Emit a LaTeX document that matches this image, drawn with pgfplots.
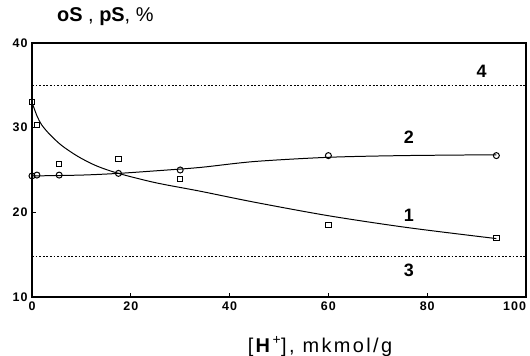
\documentclass[border=0pt]{standalone}
\usepackage{fontspec}
\setmainfont{Liberation Sans}
\usepackage{pgfplots}
\pgfplotsset{compat=1.18}
\begin{document}
\begin{tikzpicture}
\begin{axis}[
  name=ax, at={(0,0)}, anchor=south west,
  scale only axis, width=494bp, height=254bp,
  xmin=0, xmax=100, ymin=10, ymax=40,
  xtick={0,20,40,60,80,100}, ytick={10,20,30,40},
  xticklabels={0,20,40,60,80,{\makebox[0pt][r]{100}}},
  tick pos=left, tick align=inside, major tick length=4bp,
  /pgf/number format/assume math mode=true,
  tick label style={font=\fontsize{12.5}{13}\selectfont\bfseries\addfontfeatures{LetterSpace=8}},
  xticklabel style={yshift=-1bp},
  yticklabel style={xshift=-1bp},
  axis line style={line width=1.3pt},
  tick style={line width=1pt, black},
  clip=false,
]
% dotted reference lines
\addplot[black, line width=0.9pt, dash pattern=on 1.8pt off 1.8pt] coordinates {(0,35) (100,35)};
\addplot[black, line width=0.9pt, dash pattern=on 1.8pt off 1.8pt] coordinates {(0,14.75) (100,14.75)};
% curve 1
\addplot[black, line width=1pt, smooth, tension=0.5] coordinates {
(0,33) (1,31.4) (2,30.3) (3.6,29.2) (6,27.9) (9.3,26.6) (13,25.5) (17.5,24.6)
(25,23.5) (34,22.5) (45,21.2) (60,19.6) (76,18.2) (94,16.9)};
% curve 2
\addplot[black, line width=1pt, smooth, tension=0.5] coordinates {
(0,24.3) (10,24.4) (17.5,24.6) (25,24.9) (34,25.3) (45,26.0) (60,26.5) (75,26.7) (94,26.8)};
% squares
\addplot[only marks, mark=square, mark size=2.6bp, mark options={line width=0.9pt, fill=white}] coordinates {
(0,33) (1,30.3) (5.5,25.7) (17.5,26.3) (30,23.9) (60,18.5) (94,17)};
% circles
\addplot[only marks, mark=o, mark size=3bp, mark options={line width=1pt, fill=white}] coordinates {
(0,24.3) (1,24.4) (5.5,24.4) (17.5,24.6) (30,25) (60,26.7) (94,26.7)};
\node[font=\fontsize{18}{20}\selectfont\bfseries] at (axis cs:91,36.6) {4};
\node[font=\fontsize{18}{20}\selectfont\bfseries] at (axis cs:76.3,28.9) {2};
\node[font=\fontsize{18}{20}\selectfont\bfseries] at (axis cs:76.3,19.6) {1};
\node[font=\fontsize{18}{20}\selectfont\bfseries] at (axis cs:76.3,13.1) {3};
\end{axis}
\node[anchor=base west, font=\fontsize{20}{22}\selectfont, inner sep=0pt] at ([xshift=25bp,yshift=21bp]ax.north west) {\textbf{oS} , \textbf{pS}, \%};
\node[anchor=base, font=\fontsize{20}{22}\selectfont\addfontfeatures{LetterSpace=12}, inner sep=0pt] at ([xshift=288bp,yshift=-55bp]ax.south west) {[\textbf{H}\textsuperscript{+}], mkmol/g};
\pgfresetboundingbox
\path[use as bounding box] ([shift={(-32bp,-59bp)}]ax.south west) rectangle ([shift={(4bp,43bp)}]ax.north east);
\end{tikzpicture}
\end{document}
